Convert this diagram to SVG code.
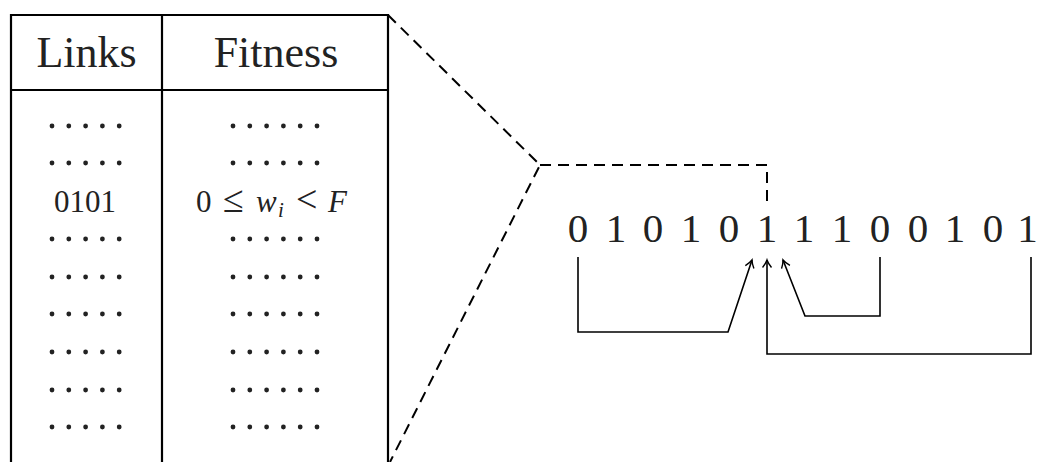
<svg xmlns="http://www.w3.org/2000/svg" width="1038" height="462" viewBox="0 0 1038 462">
<style>
.t{font-family:"Liberation Serif","DejaVu Serif",serif;fill:#222}
.h{font-size:44px}
.s{font-size:31px}
.b{font-size:41px}
.i{font-style:italic}
.rel{font-size:38px}
.tbl{stroke:#000;stroke-width:2.2;fill:none}
.dash{stroke:#000;stroke-width:2;fill:none;stroke-dasharray:11 7}
.con{stroke:#000;stroke-width:1.6;fill:none}
.dot{fill:#222}
</style>
<defs>
<marker id="ar" markerWidth="12" markerHeight="12" refX="9" refY="5" orient="auto" markerUnits="userSpaceOnUse">
<path d="M1.5,0.5 Q6,4 9,5 Q6,6 1.5,9.5" fill="none" stroke="#000" stroke-width="1.4"/>
</marker>
<g id="d5"><circle cx="0" cy="0" r="2.4"/><circle cx="16.8" cy="0" r="2.4"/><circle cx="33.6" cy="0" r="2.4"/><circle cx="50.4" cy="0" r="2.4"/><circle cx="67.2" cy="0" r="2.4"/></g>
<g id="d6"><use href="#d5"/><circle cx="84" cy="0" r="2.4"/></g>
</defs>
<g id="table">
<path class="tbl" d="M11,462 V15 H388 V462 M162,15 V462 M11,90 H388"/>
<text class="t h" x="86.5" y="67" text-anchor="middle">Links</text>
<text class="t h" x="276" y="67" text-anchor="middle">Fitness</text>
<g class="dot">
<use href="#d5" x="52" y="126"/><use href="#d6" x="233" y="126"/>
<use href="#d5" x="52" y="163"/><use href="#d6" x="233" y="163"/>
<use href="#d5" x="52" y="239"/><use href="#d6" x="233" y="239"/>
<use href="#d5" x="52" y="277"/><use href="#d6" x="233" y="277"/>
<use href="#d5" x="52" y="314"/><use href="#d6" x="233" y="314"/>
<use href="#d5" x="52" y="352"/><use href="#d6" x="233" y="352"/>
<use href="#d5" x="52" y="390"/><use href="#d6" x="233" y="390"/>
<use href="#d5" x="52" y="427"/><use href="#d6" x="233" y="427"/>
</g>
<text class="t s" x="85" y="212" text-anchor="middle">0101</text>
<text class="t s" y="212"><tspan x="196">0</tspan><tspan x="223" class="rel">≤</tspan><tspan x="256" class="i">w</tspan><tspan x="278" dy="5" class="i" font-size="21">i</tspan><tspan x="296" dy="-5" class="rel">&lt;</tspan><tspan x="328" class="i">F</tspan></text>
</g>
<g id="zoom">
<path class="dash" d="M388,15 L540,165 L390,462"/>
<path class="dash" d="M540,165 H767 V205"/>
</g>
<g id="bits">
<text class="t b" y="242" text-anchor="middle"><tspan x="578">0</tspan><tspan x="616">1</tspan><tspan x="653">0</tspan><tspan x="691">1</tspan><tspan x="729">0</tspan><tspan x="767">1</tspan><tspan x="804">1</tspan><tspan x="842">1</tspan><tspan x="880">0</tspan><tspan x="918">0</tspan><tspan x="955">1</tspan><tspan x="993">0</tspan><tspan x="1027.5">1</tspan></text>
</g>
<g id="connectors">
<path class="con" d="M578,257 V332 H728 L752,260" marker-end="url(#ar)"/>
<path class="con" d="M880,257 V316 H805 L783,260" marker-end="url(#ar)"/>
<path class="con" d="M1031,257 V354 H767 V260" marker-end="url(#ar)"/>
</g>
</svg>
